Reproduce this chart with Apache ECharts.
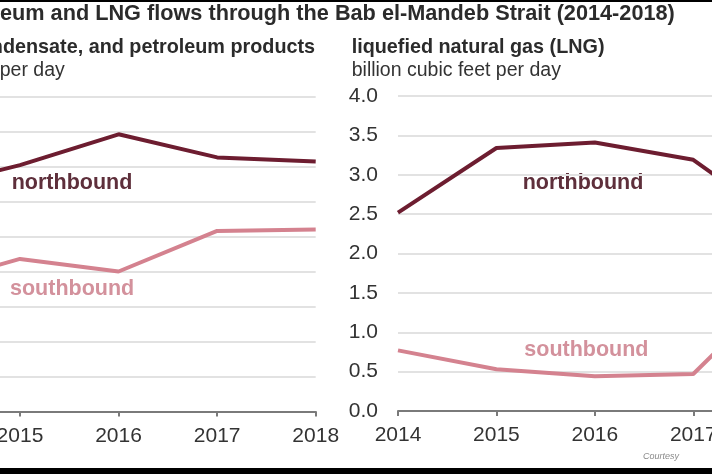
<!DOCTYPE html>
<html>
<head>
<meta charset="utf-8">
<script src="https://cdn.jsdelivr.net/npm/echarts@6/dist/echarts.min.js"></script>
<style>
  html, body { margin: 0; padding: 0; width: 712px; height: 474px; overflow: hidden; background: #fff; }
  #c { position: absolute; left: -150px; top: 0; width: 980px; height: 474px; }
  .bar { position: absolute; left: 0; width: 712px; background: #000; }
</style>
</head>
<body>
<div id="c"></div>
<div class="bar" style="top:0;height:2px"></div>
<div class="bar" style="top:468px;height:6px"></div>
<script>
// ---- data ----
const years = ['2014', '2015', '2016', '2017', '2018'];
const oilNorth = [3.17, 3.52, 3.96, 3.63, 3.57];   // million barrels per day
const oilSouth = [1.78, 2.18, 2.00, 2.58, 2.60];
const lngNorth = [2.52, 3.34, 3.41, 3.19, 2.30];   // billion cubic feet per day
const lngSouth = [0.77, 0.53, 0.44, 0.47, 1.70];
const titleText = 'Petroleum and LNG flows through the Bab el-Mandeb Strait (2014-2018)';
const leftTitle = 'crude oil, condensate, and petroleum products';
const leftUnit = 'million barrels per day';
const rightTitle = 'liquefied natural gas (LNG)';
const rightUnit = 'billion cubic feet per day';
const northLabel = 'northbound';
const southLabel = 'southbound';

const FONT = '"Liberation Sans", Arial, sans-serif';
const NORTH = '#6d1d30';
const SOUTH = '#d4828f';

const chart = echarts.init(document.getElementById('c'), null, { renderer: 'canvas' });

function xAxis(gi) {
  return {
    type: 'category', gridIndex: gi, data: years, boundaryGap: false,
    axisLine: { lineStyle: { color: '#7a7a7a', width: 2 } },
    axisTick: { show: true, length: 5, lineStyle: { color: '#7a7a7a', width: 2 } },
    axisLabel: { color: '#333', fontSize: 21, fontFamily: FONT, margin: 14, interval: 0 }
  };
}
function yAxis(gi, max) {
  return {
    type: 'value', gridIndex: gi, min: 0, max: max, interval: 0.5,
    axisLine: { show: false }, axisTick: { show: false },
    axisLabel: { color: '#333', fontSize: 21, fontFamily: FONT, margin: 20,
                 formatter: v => v.toFixed(1) },
    splitLine: { lineStyle: { color: '#e2e2e2', width: 2 } }
  };
}
function line(gi, data, color, z) {
  return {
    type: 'line', xAxisIndex: gi, yAxisIndex: gi, data: data, symbol: 'none',
    lineStyle: { color: color, width: 4 }, z: z, animation: false
  };
}
function txt(x, y, text, size, weight, color) {
  return {
    type: 'text', x: x, y: y, silent: true,
    style: { text: text, fill: color, font: weight + ' ' + size + 'px ' + FONT,
             textVerticalAlign: 'middle', verticalAlign: 'middle' }
  };
}

chart.setOption({
  animation: false,
  backgroundColor: '#fff',
  grid: [
    { left: 71.4, top: 96.5, width: 394.3, height: 315 },
    { left: 548, top: 96, width: 393.7, height: 315 }
  ],
  xAxis: [xAxis(0), xAxis(1)],
  yAxis: [yAxis(0, 4.5), yAxis(1, 4.0)],
  series: [
    line(0, oilNorth, NORTH, 3), line(0, oilSouth, SOUTH, 2),
    line(1, lngNorth, NORTH, 3), line(1, lngSouth, SOUTH, 2)
  ],
  graphic: [
    txt(88.5, 14.5, titleText, 21.7, 'bold', '#2b2b2b'),
    txt(24.3, 48, leftTitle, 19.8, 'bold', '#2b2b2b'),
    txt(24, 70.5, leftUnit, 19.5, 'normal', '#333'),
    txt(501.7, 48, rightTitle, 19.8, 'bold', '#2b2b2b'),
    txt(501.7, 70.5, rightUnit, 19.5, 'normal', '#333'),
    txt(161.7, 183, northLabel, 21.5, 'bold', '#5e2f3b'),
    txt(160, 289.5, southLabel, 21.5, 'bold', '#d3919c'),
    txt(672.7, 183, northLabel, 21.5, 'bold', '#5e2f3b'),
    txt(674.3, 350, southLabel, 21.5, 'bold', '#d3919c'),
    txt(793, 456, 'Courtesy', 9, 'italic normal', '#8a8a8a')
  ]
});
</script>
</body>
</html>
